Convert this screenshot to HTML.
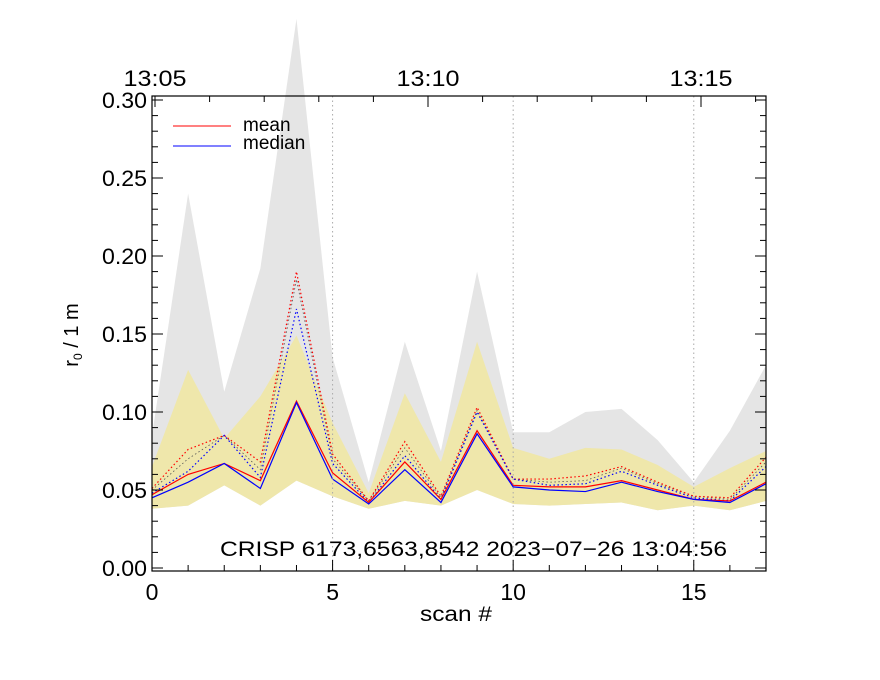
<!DOCTYPE html>
<html><head><meta charset="utf-8"><style>body{margin:0;background:#fff}svg{display:block;font-family:"Liberation Sans",sans-serif}</style></head>
<body>
<svg id="chart" width="880" height="680" xmlns="http://www.w3.org/2000/svg"></svg>
<script>
const scans=[0,1,2,3,4,5,6,7,8,9,10,11,12,13,14,15,16,17];
const greyUpper=[0.085,0.24,0.113,0.192,0.352,0.135,0.055,0.145,0.075,0.19,0.087,0.087,0.1,0.102,0.082,0.055,0.088,0.13];
const yellowUpper=[0.065,0.127,0.083,0.11,0.149,0.093,0.048,0.112,0.068,0.145,0.077,0.07,0.077,0.076,0.066,0.052,0.064,0.075];
const bandLower=[0.038,0.04,0.053,0.04,0.056,0.046,0.038,0.043,0.04,0.05,0.041,0.04,0.041,0.042,0.037,0.04,0.037,0.043];
const meanSolid=[0.047,0.06,0.067,0.056,0.107,0.061,0.042,0.068,0.044,0.088,0.053,0.052,0.052,0.056,0.05,0.044,0.043,0.055];
const medianSolid=[0.045,0.055,0.067,0.051,0.106,0.057,0.041,0.063,0.042,0.086,0.052,0.05,0.049,0.055,0.049,0.044,0.042,0.054];
const meanDotted=[0.051,0.076,0.085,0.068,0.19,0.073,0.043,0.081,0.046,0.103,0.057,0.057,0.059,0.065,0.055,0.046,0.045,0.071];
const medianDotted=[0.048,0.062,0.085,0.058,0.166,0.067,0.042,0.072,0.044,0.1,0.057,0.053,0.054,0.062,0.053,0.045,0.043,0.065];
const blackDotted=[0.05,0.07,0.085,0.063,0.185,0.07,0.043,0.077,0.045,0.101,0.057,0.055,0.056,0.064,0.054,0.046,0.044,0.068];
const yTicks=[0,0.05,0.1,0.15,0.2,0.25,0.3];
const yTickLabels=["0.00","0.05","0.10","0.15","0.20","0.25","0.30"];
const xTicks=[0,5,10,15];
const timeLabels=["13:05","13:10","13:15"];

const NS="http://www.w3.org/2000/svg";
const svg=document.getElementById('chart');
const L=152,R=766,T=96,B=571;
const X=v=>L+(v-0)*(R-L)/17;
const Y=v=>568-v*1560;
function el(tag,attrs,parent){const e=document.createElementNS(NS,tag);for(const k in attrs)e.setAttribute(k,attrs[k]);(parent||svg).appendChild(e);return e;}
const defs=el('defs',{});const cp=el('clipPath',{id:'clip'},defs);el('rect',{x:L,y:0,width:R-L,height:B},cp);
const g=el('g',{'clip-path':'url(#clip)'});
function band(up,lo,fill,name){
  let d=scans.map((s,i)=>(i?'L':'M')+X(s)+','+Y(up[i])).join('');
  for(let i=scans.length-1;i>=0;i--)d+='L'+X(scans[i])+','+Y(lo[i]);
  const p=el('path',{d:d+'Z',fill:fill},g);
  
  
}
band(greyUpper,bandLower,'#e5e5e5','grey-range-band');
band(yellowUpper,bandLower,'#efe7ab','yellow-range-band');
[5,10,15].forEach(s=>{const l=el('line',{x1:X(s),x2:X(s),y1:T,y2:B,stroke:'#aaa','stroke-dasharray':'1.5,3'});

});
function line(vals,color,dash,name,w){
  const p=el('polyline',{points:scans.map((s,i)=>X(s)+','+Y(vals[i])).join(' '),fill:'none',stroke:color,'stroke-width':w||1.2},g);
  if(dash)p.setAttribute('stroke-dasharray','1.5,2.5');
  
  
}
line(blackDotted,'#555',true,'black-dotted-line',0.8);
line(meanDotted,'#f00',true,'mean-dotted-line');
line(medianDotted,'#00f',true,'median-dotted-line');
line(meanSolid,'#f00',false,'mean-line');
line(medianSolid,'#00f',false,'median-line');
const fr=el('rect',{x:L,y:T,width:R-L,height:B-T,fill:'none',stroke:'#000','stroke-width':1.2});


for(let v=0;v<=0.30001;v+=0.01){const maj=Math.abs(v*20-Math.round(v*20))<1e-6;const len=maj?11:6;
el('line',{x1:L,x2:L+len,y1:Y(v),y2:Y(v),stroke:'#000'});el('line',{x1:R,x2:R-len,y1:Y(v),y2:Y(v),stroke:'#000'});}
yTicks.forEach((v,i)=>{const t=el('text',{x:L-5,y:Y(v)+8,'text-anchor':'end','font-size':22,textLength:45,lengthAdjust:'spacingAndGlyphs'});t.textContent=yTickLabels[i];

});
scans.forEach(s=>{const maj=s%5===0;el('line',{x1:X(s),x2:X(s),y1:B,y2:B-(maj?11:6),stroke:'#000'});});
xTicks.forEach(s=>{const t=el('text',{x:X(s),y:600,'text-anchor':'middle','font-size':23});t.textContent=String(s);

});
for(let k=0;k<13;k++){const x=155+k*54.6;if(x>R)break;const maj=k%5===0;el('line',{x1:x,x2:x,y1:T,y2:T+(maj?11:6),stroke:'#000'});}
timeLabels.forEach((lab,i)=>{const t=el('text',{x:155+i*273,y:86,'text-anchor':'middle','font-size':22,textLength:63,lengthAdjust:'spacingAndGlyphs'});t.textContent=lab;

});
</script>
<svg style="position:absolute;left:0;top:0" width="880" height="680">
<line x1="173" y1="126" x2="231" y2="126" stroke="#f00"/>
<text x="243" y="131" font-size="19" font-family="Liberation Sans,sans-serif">mean</text>
<line x1="173" y1="146" x2="231" y2="146" stroke="#00f"/>
<text x="243" y="149" font-size="19" font-family="Liberation Sans,sans-serif">median</text>
<text x="220" y="556" font-size="21" textLength="507" lengthAdjust="spacingAndGlyphs" font-family="Liberation Sans,sans-serif">CRISP 6173,6563,8542 2023−07−26 13:04:56</text>
<text x="420" y="621" font-size="21" textLength="72" lengthAdjust="spacingAndGlyphs" font-family="Liberation Sans,sans-serif">scan #</text>
<text transform="translate(78,335) rotate(-90)" text-anchor="middle" font-size="20" font-family="Liberation Sans,sans-serif">r<tspan font-size="12" dy="4">0</tspan><tspan dy="-4"> / 1 m</tspan></text>
</svg>
</body></html>
